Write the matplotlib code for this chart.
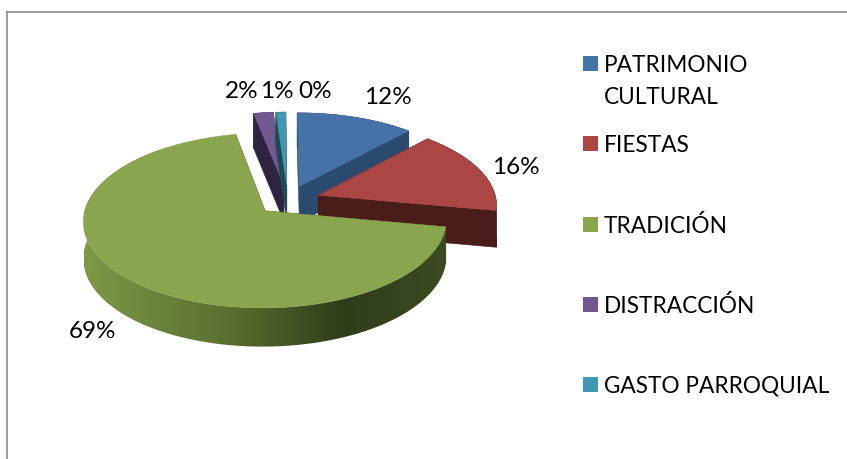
import numpy as np
import matplotlib
matplotlib.use('Agg')
import matplotlib.pyplot as plt
from matplotlib.colors import LinearSegmentedColormap
from matplotlib.patches import Polygon, Rectangle

categories = ['PATRIMONIO\nCULTURAL', 'FIESTAS', 'TRADICIÓN', 'DISTRACCIÓN', 'GASTO PARROQUIAL']
values = [12, 16, 69, 2, 1, 0]
value_labels = ['12%', '16%', '69%', '2%', '1%', '0%']

top_colors = ['#4572A7', '#AA4643', '#89A54E', '#71588F', '#4198AF']
wall_colors = ['#2A4A6E', '#4A1C1A', '#3A4A1F', '#2F2440', '#1F4A55']

# green outer wall is shaded left to right
green_x = [84, 127, 227, 343, 427, 447]
green_wall = ['#7E9948', '#728C41', '#5A7030', '#303D1A', '#3A4820', '#3B4A1F']

label_pos = [(388, 97), (516, 167), (93, 331), (242, 92), (277, 92), (315, 92)]
legend_y = [64, 144, 225, 305, 385]

# fake 3d projection, pixels
cx, cy = 288, 200
b, a = 178, 84
persp = 0.108
explode = 0.18
depth = 36.5
start = -0.4


def project(u, v, z=0):
    p = 1 + persp * v
    return cx + b * u / p, cy - a * v / p + z * depth / (1 + 0.05 * v)


fig = plt.figure(figsize=(8.47, 4.59), dpi=100)
ax = fig.add_axes([0, 0, 1, 1])

ax.plot([6, 847], [11.5, 11.5], color='#8E8E8E', lw=1.2, solid_capstyle='butt')
ax.plot([7, 7], [11, 459], color='#8E8E8E', lw=1.2, solid_capstyle='butt')

green_cmap = LinearSegmentedColormap.from_list(
    'green_wall', [((x - green_x[0]) / (green_x[-1] - green_x[0]), c) for x, c in zip(green_x, green_wall)])


def draw_slice(i, a0, a1):
    t = np.radians(np.linspace(a0, a1, max(int(a1 - a0) * 2, 4)))
    mid = np.radians((a0 + a1) / 2)
    ou, ov = explode * np.sin(mid), explode * np.cos(mid)
    us = ou + np.sin(t)
    vs = ov + np.cos(t)

    # radial cut walls
    for eu, ev in [(us[0], vs[0]), (us[-1], vs[-1])]:
        corners = [project(ou, ov), project(eu, ev), project(eu, ev, 1), project(ou, ov, 1)]
        ax.add_patch(Polygon(corners, closed=True, fc=wall_colors[i], ec=wall_colors[i], lw=0.4))

    # outer wall
    tx, ty = project(us, vs)
    bx, by = project(us, vs, 1)
    outline = np.column_stack([np.r_[tx, bx[::-1]], np.r_[ty, by[::-1]]])
    if i == 2:
        wall = Polygon(outline, closed=True, fc='none', ec='none', transform=ax.transData)
        ax.add_patch(wall)
        grad = np.linspace(0, 1, 400).reshape(1, -1)
        im = ax.imshow(grad, cmap=green_cmap, extent=[green_x[0], green_x[-1], 400, 150],
                       aspect='auto', interpolation='bilinear', zorder=wall.get_zorder())
        im.set_clip_path(wall)
    else:
        ax.add_patch(Polygon(outline, closed=True, fc=wall_colors[i], ec=wall_colors[i], lw=0.4))

    # top face
    ax0, ay0 = project(ou, ov)
    ax.add_patch(Polygon(np.column_stack([np.r_[ax0, tx], np.r_[ay0, ty]]), closed=True,
                         fc=top_colors[i], ec=top_colors[i], lw=0.3))


edges = start + np.r_[0, np.cumsum(values)] * 3.6
for i in [0, 3, 4, 1, 2]:
    draw_slice(i, edges[i], edges[i + 1])

for txt, (x, y) in zip(value_labels, label_pos):
    ax.text(x, y, txt, ha='center', va='center', fontsize=17.5, family='Lato', color='black')

for name, col, y in zip(categories, top_colors, legend_y):
    ax.add_patch(Rectangle((583, y - 8), 15, 15, fc=col, ec='none'))
    for k, line in enumerate(name.split('\n')):
        ax.text(604, y + 1 + k * 32, line, ha='left', va='center', fontsize=16.3, family='Lato', color='black')

ax.set_xlim(0, 847)
ax.set_ylim(459, 0)
ax.axis('off')

fig.savefig('out.png', dpi=100)
